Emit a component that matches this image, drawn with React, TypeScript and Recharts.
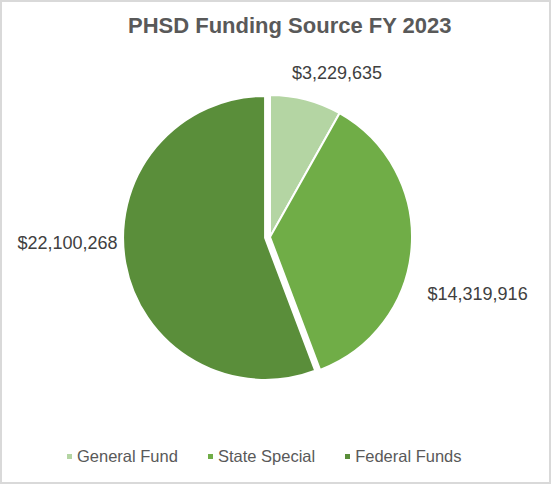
import React from 'react';
import { PieChart, Pie, Cell, Sector } from 'recharts';

const categories = ['General Fund', 'State Special', 'Federal Funds'];
const amounts = [3229635, 14319916, 22100268];
const colors = ['#b4d5a3', '#70ad47', '#5a8e3a'];

const data = categories.map((name, i) => ({ name, value: amounts[i] }));

const FONT = '"Liberation Sans", Arial, sans-serif';
const RAD = Math.PI / 180;
const EXPLODE = 5;

// Excel "best fit" puts the labels a bit off the mid angle
const labelNudge = [
  { dx: -18, dy: -11, anchor: 'start' },
  { dx: 0, dy: 45, anchor: 'start' },
  { dx: 3, dy: -22, anchor: 'end' },
];

const fmt = (v: number) => '$' + v.toLocaleString('en-US');

function renderSlice(props: any) {
  const off = props.name === 'Federal Funds' ? EXPLODE : 0;
  const cx = props.cx + off * Math.cos(-props.midAngle * RAD);
  const cy = props.cy + off * Math.sin(-props.midAngle * RAD);
  return <Sector {...props} cx={cx} cy={cy} />;
}

function renderLabel(props: any) {
  const { cx, cy, midAngle, outerRadius, index, value } = props;
  const r = outerRadius + 16;
  const n = labelNudge[index];
  const x = cx + r * Math.cos(-midAngle * RAD) + n.dx;
  const y = cy + r * Math.sin(-midAngle * RAD) + n.dy;
  return (
    <text x={x} y={y} textAnchor={n.anchor} dominantBaseline="central" fill="#404040" fontSize={18} fontFamily={FONT}>
      {fmt(value)}
    </text>
  );
}

export default function App() {
  return (
    <div
      style={{
        position: 'absolute',
        left: 0,
        top: 0,
        width: 551,
        height: 484,
        border: '2px solid #d9d9d9',
        boxSizing: 'border-box',
        background: '#fff',
        fontFamily: FONT,
      }}
    >
      <div
        style={{
          position: 'absolute',
          top: 13,
          left: 126,
          fontSize: 22,
          lineHeight: '22px',
          fontWeight: 'bold',
          color: '#595959',
          whiteSpace: 'nowrap',
        }}
      >
        PHSD Funding Source FY 2023
      </div>
      <PieChart width={547} height={480} margin={{ top: 0, right: 0, bottom: 0, left: 0 }}>
        <Pie
          data={data}
          dataKey="value"
          nameKey="name"
          cx={268}
          cy={235}
          outerRadius={142}
          startAngle={90}
          endAngle={-270}
          stroke="#ffffff"
          strokeWidth={2}
          isAnimationActive={false}
          labelLine={false}
          label={renderLabel}
          shape={renderSlice}
        >
          {data.map((d, i) => (
            <Cell key={d.name} fill={colors[i]} />
          ))}
        </Pie>
      </PieChart>
      <div
        style={{
          position: 'absolute',
          left: 65,
          top: 444,
          display: 'flex',
          alignItems: 'center',
          fontSize: 16.5,
          lineHeight: '20px',
          color: '#595959',
          whiteSpace: 'nowrap',
        }}
      >
        {categories.map((c, i) => (
          <div key={c} style={{ display: 'flex', alignItems: 'center', marginRight: 30 }}>
            <span style={{ width: 5, height: 5, background: colors[i], marginRight: 5, display: 'inline-block' }} />
            <span>{c}</span>
          </div>
        ))}
      </div>
    </div>
  );
}
